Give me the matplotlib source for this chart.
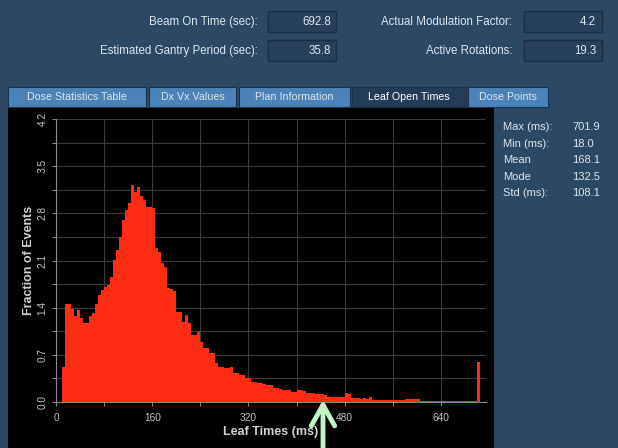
import matplotlib
matplotlib.use("Agg")

import matplotlib.pyplot as plt
import numpy as np
from matplotlib.patches import Rectangle
from matplotlib.ticker import MultipleLocator, FuncFormatter

plt.rcParams["font.family"] = ["Liberation Sans", "DejaVu Sans"]

# leaf open time histogram, 5 ms bins starting at 10 ms
bin_width = 5
bin_start = np.arange(10, 705, bin_width)
fraction = [
    0.52, 1.46, 1.46, 1.38, 1.27, 1.37, 1.25, 1.17, 1.17, 1.27,
    1.32, 1.46, 1.59, 1.66, 1.70, 1.74, 1.86, 2.11, 2.25, 2.45,
    2.70, 2.85, 2.95, 3.22, 3.12, 3.19, 3.05, 3.00, 2.90, 2.90,
    2.88, 2.28, 2.23, 2.06, 2.00, 1.69, 1.67, 1.64, 1.34, 1.34,
    1.19, 1.29, 1.17, 0.99, 0.99, 1.04, 0.89, 0.80, 0.80, 0.72,
    0.72, 0.58, 0.52, 0.52, 0.50, 0.50, 0.52, 0.43, 0.43, 0.40,
    0.40, 0.36, 0.36, 0.30, 0.30, 0.28, 0.28, 0.27, 0.25, 0.25,
    0.21, 0.21, 0.20, 0.18, 0.18, 0.18, 0.15, 0.15, 0.18, 0.18,
    0.16, 0.13, 0.13, 0.13, 0.12, 0.12, 0.12, 0.10, 0.08, 0.08,
    0.08, 0.08, 0.08, 0.08, 0.13, 0.12, 0.06, 0.06, 0.06, 0.05,
    0.06, 0.05, 0.08, 0.03, 0.03, 0.03, 0.03, 0.03, 0.03, 0.03,
    0.03, 0.03, 0.03, 0.03, 0.04, 0.04, 0.04, 0.04, 0.04, 0.02,
    0.02, 0.02, 0.02, 0.02, 0.02, 0.02, 0.02, 0.02, 0.02, 0.02,
    0.02, 0.02, 0.02, 0.02, 0.02, 0.02, 0.02, 0.02, 0.60,
]

left_labels = ["Beam On Time (sec):", "Estimated Gantry Period (sec):"]
left_values = ["692.8", "35.8"]
right_labels = ["Actual Modulation Factor:", "Active Rotations:"]
right_values = ["4.2", "19.3"]

tab_names = ["Dose Statistics Table", "Dx Vx Values", "Plan Information",
             "Leaf Open Times", "Dose Points"]
active_tab = "Leaf Open Times"

stat_names = ["Max (ms):", "Min (ms):", "Mean", "Mode", "Std (ms):"]
stat_values = [701.9, 18.0, 168.1, 132.5, 108.1]

PANEL = "#2d4862"
BOX = "#28405a"
BOX_EDGE = "#1b2d3f"
TAB = "#4a83ba"
TAB_ACTIVE = "#243c55"
TEXT = "#dde5ee"
RED = "#ff2c14"

W, H = 618, 448
fig = plt.figure(figsize=(W / 100, H / 100), dpi=100, facecolor=PANEL)

# form controls, drawn in pixel units
ui = fig.add_axes([0, 0, 1, 1], zorder=0)
ui.set_xlim(0, W)
ui.set_ylim(H, 0)
ui.axis("off")

for i, (lab, val) in enumerate(zip(left_labels, left_values)):
    y = 22 + 29 * i
    ui.text(258, y, lab, ha="right", va="center", color=TEXT, fontsize=8.3)
    ui.add_patch(Rectangle((268, y - 10.5), 68, 21, fc=BOX, ec=BOX_EDGE, lw=1))
    ui.text(331, y, val, ha="right", va="center", color=TEXT, fontsize=8.3)

for i, (lab, val) in enumerate(zip(right_labels, right_values)):
    y = 22 + 29 * i
    ui.text(512, y, lab, ha="right", va="center", color=TEXT, fontsize=8.3)
    ui.add_patch(Rectangle((524, y - 10.5), 78, 21, fc=BOX, ec=BOX_EDGE, lw=1))
    ui.text(596, y, val, ha="right", va="center", color=TEXT, fontsize=8.3)

tab_edges = [(8, 146), (149, 236), (239, 350), (352, 466), (468, 548)]
for name, (x0, x1) in zip(tab_names, tab_edges):
    fc = TAB_ACTIVE if name == active_tab else TAB
    ui.add_patch(Rectangle((x0, 87), x1 - x0, 20, fc=fc, ec="#1d3248", lw=0.8))
    ui.text((x0 + x1) / 2, 97.5, name, ha="center", va="center",
            color="white" if name == active_tab else TEXT, fontsize=7.7)

# black plot panel
ui.add_patch(Rectangle((8, 108), 486, 340, fc="black", ec="none"))

for i, (name, val) in enumerate(zip(stat_names, stat_values)):
    y = 127 + 16.6 * i
    ui.text(503, y, name, ha="left", va="center", color=TEXT, fontsize=8)
    ui.text(572, y, f"{val:.1f}", ha="left", va="center", color=TEXT, fontsize=8)

# histogram
ax = fig.add_axes([56 / W, 1 - 402 / H, 430 / W, 283 / H], zorder=1)
ax.set_facecolor("black")
ax.bar(bin_start, fraction, width=bin_width, align="edge", color=RED, lw=0, zorder=2)
ax.set_xlim(0, 715)
ax.set_ylim(0, 4.2)

ax.xaxis.set_major_locator(MultipleLocator(80))
ax.xaxis.set_major_formatter(FuncFormatter(
    lambda v, p: f"{v:.0f}" if round(v) % 160 == 0 else ""))
ax.yaxis.set_major_locator(MultipleLocator(0.35))
ax.yaxis.set_major_formatter(FuncFormatter(
    lambda v, p: f"{v:.1f}" if abs(v / 0.7 - round(v / 0.7)) < 1e-6 else ""))

ax.grid(color="#3a3a3a", lw=0.8, zorder=0)
ax.set_axisbelow(True)
for side in ("top", "right"):
    ax.spines[side].set_visible(False)
for side in ("left", "bottom"):
    ax.spines[side].set_color("#8a8a8a")

ax.tick_params(colors="#8a8a8a", labelcolor="#c4c4c4", labelsize=7.3, length=3)
ax.tick_params(axis="x", pad=5)
ax.tick_params(axis="y", pad=3)
plt.setp(ax.get_yticklabels(), rotation=90, va="center", ha="right")

ax.set_xlabel("Leaf Times (ms)", color="#d0d0d0", fontsize=9, fontweight="bold")
ax.xaxis.set_label_coords(0.5, -0.085)
ax.set_ylabel("Fraction of Events", color="#d0d0d0", fontsize=9, fontweight="bold")
ax.yaxis.set_label_coords(-0.05, 0.5)

# pointer arrow on top of everything
top = fig.add_axes([0, 0, 1, 1], zorder=5)
top.set_xlim(0, W)
top.set_ylim(H, 0)
top.axis("off")
top.patch.set_alpha(0)
top.annotate("", xy=(323, 400), xytext=(323, 449),
             arrowprops=dict(arrowstyle="->,head_length=0.75,head_width=0.42",
                             mutation_scale=20, color="#c0f5c6", lw=3.5,
                             shrinkA=0, shrinkB=0))

fig.savefig("out.png", dpi=100, facecolor=PANEL)
